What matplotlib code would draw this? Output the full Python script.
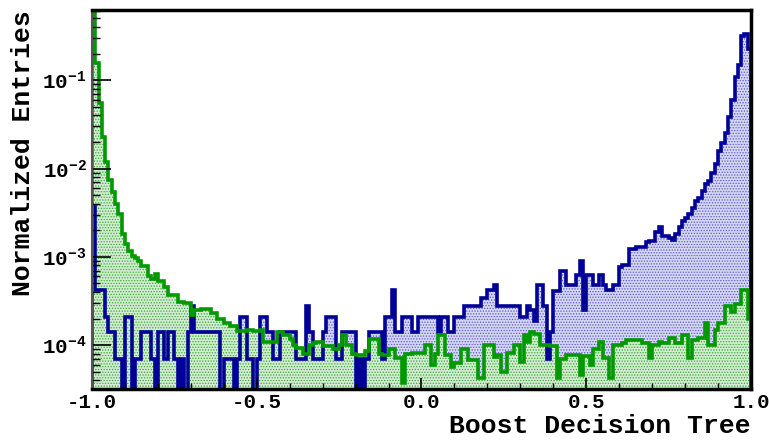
import numpy as np
import matplotlib
matplotlib.use("Agg")
import matplotlib.pyplot as plt
from matplotlib.ticker import FixedLocator, FixedFormatter, LogLocator, NullFormatter

# BDT response, 200 bins on [-1, 1], both samples normalised to unit area
bin_edges = np.linspace(-1.0, 1.0, 201)

signal = [
    3.7e-3, 4.2e-4, 4.2e-4, 4.2e-4, 2.1e-4, 1.4e-4, 1.4e-4, 7e-5, 7e-5, 0,
    2.1e-4, 2.1e-4, 0, 7e-5, 7e-5, 1.4e-4, 1.4e-4, 1.4e-4, 7e-5, 0,
    1.4e-4, 1.4e-4, 7e-5, 1.4e-4, 1.4e-4, 7e-5, 0, 7e-5, 0, 1.4e-4,
    2.8e-4, 1.4e-4, 1.4e-4, 1.4e-4, 1.4e-4, 1.4e-4, 1.4e-4, 1.4e-4, 1.4e-4, 0,
    7e-5, 7e-5, 7e-5, 0, 7e-5, 2.1e-4, 2.1e-4, 7e-5, 7e-5, 0,
    7e-5, 2.1e-4, 2.1e-4, 1.4e-4, 1.4e-4, 7e-5, 7e-5, 1.4e-4, 1.4e-4, 1.4e-4,
    1.4e-4, 1.4e-4, 7e-5, 7e-5, 7e-5, 2.8e-4, 1.4e-4, 7e-5, 7e-5, 7e-5,
    1.4e-4, 2.1e-4, 2.1e-4, 2.1e-4, 7e-5, 7e-5, 1.4e-4, 1.4e-4, 1.4e-4, 1.4e-4,
    0, 7e-5, 0, 7e-5, 1.4e-4, 1.4e-4, 1.4e-4, 1.4e-4, 7e-5, 2.1e-4,
    2.1e-4, 4.2e-4, 1.4e-4, 1.4e-4, 2.1e-4, 2.1e-4, 2.1e-4, 1.4e-4, 1.4e-4, 2.1e-4,
    2.1e-4, 2.1e-4, 2.1e-4, 2.1e-4, 2.1e-4, 1.4e-4, 2.1e-4, 2.1e-4, 1.4e-4, 1.4e-4,
    2.1e-4, 2.1e-4, 2.1e-4, 2.8e-4, 2.8e-4, 2.8e-4, 2.8e-4, 2.8e-4, 3.4e-4, 3.4e-4,
    4.2e-4, 4.2e-4, 4.8e-4, 2.8e-4, 2.8e-4, 2.8e-4, 2.8e-4, 2.8e-4, 2.8e-4, 2.8e-4,
    2.1e-4, 2.1e-4, 2.8e-4, 2.5e-4, 1.9e-4, 4.8e-4, 4.8e-4, 2.8e-4, 7e-5, 1.4e-4,
    4.1e-4, 4.1e-4, 6.9e-4, 6.9e-4, 4.8e-4, 4.8e-4, 4.8e-4, 6.2e-4, 8.9e-4, 2.5e-4,
    6.2e-4, 6.2e-4, 4.8e-4, 4.8e-4, 6.2e-4, 4.8e-4, 4.2e-4, 4.2e-4, 4.8e-4, 4.8e-4,
    7.7e-4, 8.0e-4, 8.0e-4, 1.23e-3, 1.23e-3, 1.28e-3, 1.29e-3, 1.29e-3, 1.46e-3, 1.50e-3,
    1.53e-3, 1.89e-3, 2.16e-3, 1.73e-3, 1.73e-3, 1.65e-3, 1.56e-3, 1.81e-3, 2.16e-3, 2.56e-3,
    2.78e-3, 3.05e-3, 3.59e-3, 4.31e-3, 4.62e-3, 5.58e-3, 6.6e-3, 7.2e-3, 8.9e-3, 1.11e-2,
    1.56e-2, 1.94e-2, 2.52e-2, 3.87e-2, 5.97e-2, 0.109, 0.147, 0.32, 0.335, 0.227,
]

background = [
    0.9, 0.155, 0.0552, 0.0229, 0.012, 7.5e-3, 5.4e-3, 4.0e-3, 3.05e-3, 1.8e-3,
    1.4e-3, 1.17e-3, 1.03e-3, 9.6e-4, 9.0e-4, 7.9e-4, 7.9e-4, 6.0e-4, 5.6e-4, 6.4e-4,
    5.4e-4, 5.4e-4, 4.6e-4, 3.7e-4, 3.7e-4, 3.7e-4, 3.1e-4, 3.1e-4, 3.0e-4, 3.0e-4,
    2.2e-4, 2.5e-4, 2.5e-4, 2.6e-4, 2.6e-4, 2.6e-4, 2.3e-4, 2.3e-4, 2.0e-4, 2.0e-4,
    1.8e-4, 1.8e-4, 1.65e-4, 1.65e-4, 1.46e-4, 1.46e-4, 1.46e-4, 1.5e-4, 1.5e-4, 1.46e-4,
    1.46e-4, 1.5e-4, 1.1e-4, 1.1e-4, 1.1e-4, 1.1e-4, 1.4e-4, 1.4e-4, 1.3e-4, 1.3e-4,
    1.17e-4, 1.0e-4, 9.4e-5, 9.4e-5, 7.9e-5, 7.9e-5, 1.0e-4, 1.05e-4, 1.1e-4, 1.1e-4,
    9.9e-5, 9.9e-5, 9.9e-5, 9.0e-5, 9.0e-5, 1.0e-4, 1.3e-4, 1.0e-4, 1.0e-4, 7.9e-5,
    7.7e-5, 7.7e-5, 7.7e-5, 8.7e-5, 1.17e-4, 1.17e-4, 1.17e-4, 7.9e-5, 7.7e-5, 7.7e-5,
    9.0e-5, 9.0e-5, 7.1e-5, 7.1e-5, 3.7e-5, 7.9e-5, 7.9e-5, 8.2e-5, 8.2e-5, 8.2e-5,
    8.2e-5, 1.0e-4, 1.0e-4, 5.9e-5, 7.9e-5, 1.3e-4, 1.3e-4, 7.7e-5, 7.7e-5, 5.6e-5,
    6.3e-5, 6.3e-5, 9.0e-5, 9.0e-5, 6.8e-5, 6.8e-5, 6.8e-5, 4.3e-5, 4.3e-5, 1.0e-4,
    1.0e-4, 1.0e-4, 7.3e-5, 7.7e-5, 5.0e-5, 5.0e-5, 8.2e-5, 8.2e-5, 1.0e-4, 1.0e-4,
    6.5e-5, 1.3e-4, 1.1e-4, 1.4e-4, 1.35e-4, 1.35e-4, 1.0e-4, 1.0e-4, 1.0e-4, 9.7e-5,
    9.7e-5, 4.3e-5, 6.9e-5, 6.9e-5, 7.8e-5, 7.8e-5, 7.8e-5, 7.8e-5, 4.6e-5, 7.5e-5,
    7.5e-5, 5.9e-5, 9.0e-5, 9.0e-5, 1.1e-4, 7.2e-5, 7.2e-5, 4.3e-5, 1.0e-4, 1.0e-4,
    1.0e-4, 1.05e-4, 1.15e-4, 1.15e-4, 1.15e-4, 1.15e-4, 1.15e-4, 1.05e-4, 1.05e-4, 7.1e-5,
    1.0e-4, 1.0e-4, 1.1e-4, 1.05e-4, 1.05e-4, 1.2e-4, 1.2e-4, 1.05e-4, 1.05e-4, 1.3e-4,
    1.3e-4, 7.1e-5, 1.15e-4, 1.15e-4, 1.2e-4, 1.2e-4, 1.8e-4, 1.0e-4, 1.0e-4, 1.5e-4,
    1.8e-4, 1.8e-4, 2.8e-4, 2.8e-4, 2.4e-4, 2.9e-4, 2.9e-4, 4.2e-4, 4.2e-4, 2.0e-4,
]

x_ticks = [-1.0, -0.5, 0.0, 0.5, 1.0]
x_labels = ["-1.0", "-0.5", "0.0", "0.5", "1.0"]
y_ticks = [1e-4, 1e-3, 1e-2, 1e-1]
y_labels = [r"$10^{-4}$", r"$10^{-3}$", r"$10^{-2}$", r"$10^{-1}$"]

plt.rcParams["font.family"] = ["Liberation Mono", "DejaVu Sans Mono"]
plt.rcParams["font.weight"] = "bold"
plt.rcParams["axes.unicode_minus"] = False
plt.rcParams["mathtext.fontset"] = "custom"
plt.rcParams["mathtext.rm"] = "Liberation Mono:bold"
plt.rcParams["mathtext.it"] = "Liberation Mono:bold"
plt.rcParams["mathtext.bf"] = "Liberation Mono:bold"
plt.rcParams["hatch.linewidth"] = 0.6

ymin, ymax = 3.2e-5, 0.62
sig_color = "#000099"
bkg_color = "#009900"

fig = plt.figure(figsize=(7.69, 4.40), dpi=100)
ax = fig.add_axes([0.1196, 0.116, 0.857, 0.861])
ax.set_yscale("log")

sig = np.array(signal)
bkg = np.array(background)

# filled areas first, then the outlines on top
ax.stairs(sig, bin_edges, baseline=1e-7, fill=True, facecolor="#d4d6f2",
          edgecolor="#5a5ac8", hatch="......", linewidth=0)
ax.stairs(bkg, bin_edges, baseline=1e-7, fill=True, facecolor="#d2ecd0",
          edgecolor="#3aa83a", hatch="......", linewidth=0)
ax.stairs(sig, bin_edges, baseline=1e-7, color=sig_color, linewidth=2.6)
ax.stairs(bkg, bin_edges, baseline=1e-7, color=bkg_color, linewidth=2.6)

ax.set_xlim(-1.0, 1.0)
ax.set_ylim(ymin, ymax)

ax.xaxis.set_major_locator(FixedLocator(x_ticks))
ax.xaxis.set_major_formatter(FixedFormatter(x_labels))
ax.xaxis.set_minor_locator(FixedLocator(np.arange(-1.0, 1.01, 0.1)))
ax.yaxis.set_major_locator(FixedLocator(y_ticks))
ax.yaxis.set_major_formatter(FixedFormatter(y_labels))
ax.yaxis.set_minor_locator(LogLocator(base=10, subs=np.arange(2, 10)))
ax.yaxis.set_minor_formatter(NullFormatter())

ax.tick_params(axis="both", which="both", direction="in", labelsize=15,
               top=False, right=False, colors="black")
ax.tick_params(axis="y", which="major", length=14, width=1.2, pad=4)
ax.tick_params(axis="y", which="minor", length=6, width=1.0)
ax.tick_params(axis="x", which="major", length=8, width=1.2, pad=3)
ax.tick_params(axis="x", which="minor", length=4, width=1.0)

for side in ["top", "bottom", "right"]:
    ax.spines[side].set_linewidth(2.5)
    ax.spines[side].set_color("black")
ax.spines["left"].set_linewidth(1.5)
ax.spines["left"].set_color("#555555")

ax.set_xlabel("Boost Decision Tree", fontsize=19, fontweight="bold", loc="right", labelpad=1)
ax.set_ylabel("Normalized Entries", fontsize=19, fontweight="bold", loc="top", labelpad=5)

fig.savefig("out.png", dpi=100)
